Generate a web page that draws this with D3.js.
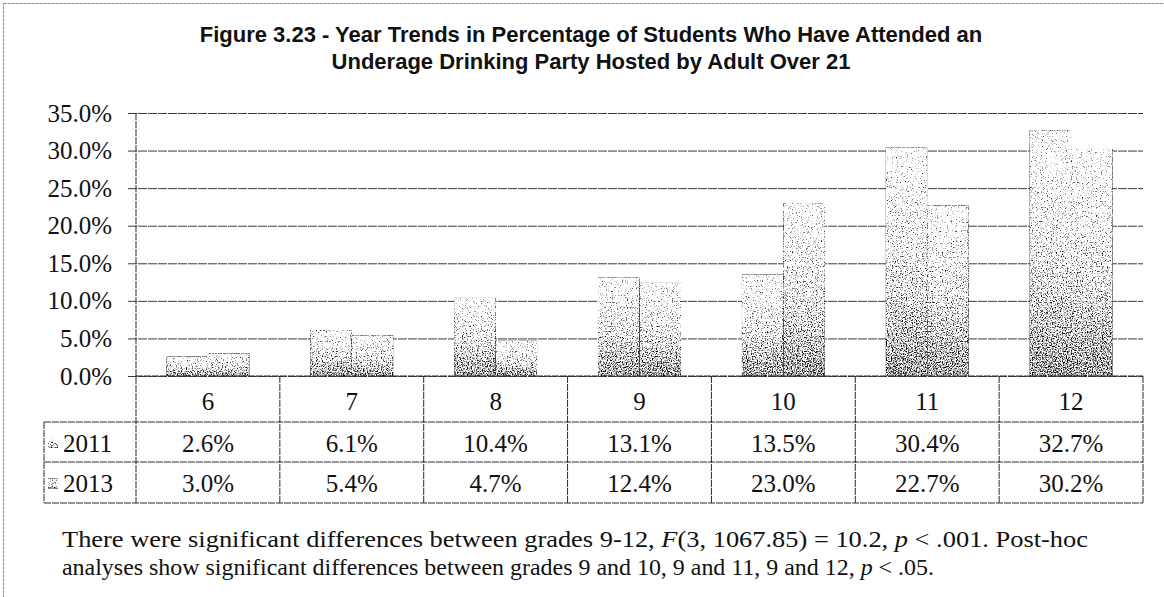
<!DOCTYPE html>
<html>
<head>
<meta charset="utf-8">
<script src="https://cdn.jsdelivr.net/npm/d3@7"></script>
<style>
  html, body { margin: 0; padding: 0; background: #fff; }
  svg { display: block; }
</style>
</head>
<body>
<div id="chart"></div>
<script>
// data
var grades = ["6", "7", "8", "9", "10", "11", "12"];
var years = ["2011", "2013"];
var values2011 = [2.6, 6.1, 10.4, 13.1, 13.5, 30.4, 32.7];
var values2013 = [3.0, 5.4, 4.7, 12.4, 23.0, 22.7, 30.2];
var yTicks = [0, 5, 10, 15, 20, 25, 30, 35];
var titleLines = [
    "Figure 3.23 - Year Trends in Percentage of Students Who Have Attended an",
    "Underage Drinking Party Hosted by Adult Over 21"
];

var W = 1164, H = 597;
var plotLeft = 136, plotRight = 1143, plotTop = 113, plotBottom = 376;
var rowTops = [376, 422, 462, 503];
var legendLeft = 44;

var svg = d3.select("#chart").append("svg")
    .attr("width", W)
    .attr("height", H);

// stipple filter: dither a grey gradient with noise
var defs = svg.append("defs");
var grad = defs.append("linearGradient")
    .attr("id", "barGrad")
    .attr("x1", 0).attr("y1", 0).attr("x2", 0).attr("y2", 1);
grad.append("stop").attr("offset", "0%").attr("stop-color", "#bdbdbd");
grad.append("stop").attr("offset", "55%").attr("stop-color", "#a8a8a8");
grad.append("stop").attr("offset", "100%").attr("stop-color", "#858585");

var f = defs.append("filter")
    .attr("id", "stipple")
    .attr("x", 0).attr("y", 0).attr("width", 1).attr("height", 1)
    .attr("color-interpolation-filters", "sRGB");
f.append("feTurbulence")
    .attr("type", "fractalNoise")
    .attr("baseFrequency", 0.8)
    .attr("numOctaves", 2)
    .attr("seed", 4)
    .attr("result", "noise");
f.append("feColorMatrix")
    .attr("in", "noise")
    .attr("type", "matrix")
    .attr("values", "1 0 0 0 0  1 0 0 0 0  1 0 0 0 0  0 0 0 0 1")
    .attr("result", "grey");
f.append("feComposite")
    .attr("in", "SourceGraphic")
    .attr("in2", "grey")
    .attr("operator", "arithmetic")
    .attr("k1", 0).attr("k2", 1).attr("k3", 1).attr("k4", -0.5)
    .attr("result", "sum");
var ct = f.append("feComponentTransfer").attr("in", "sum").attr("result", "dith");
["feFuncR", "feFuncG", "feFuncB"].forEach(function(n) {
    ct.append(n).attr("type", "linear").attr("slope", 3.5).attr("intercept", -1.2);
});
f.append("feComposite")
    .attr("in", "dith")
    .attr("in2", "SourceAlpha")
    .attr("operator", "in");

// outer frame (only left and top edges fall inside the picture)
svg.append("rect")
    .attr("x", 3.5).attr("y", 3.5)
    .attr("width", W + 40).attr("height", H + 40)
    .attr("fill", "none")
    .attr("stroke", "#888")
    .attr("stroke-dasharray", "3 1");

// title
svg.append("g").selectAll("text")
    .data(titleLines)
    .enter().append("text")
    .attr("x", 591)
    .attr("y", function(d, i) { return 42 + i * 27; })
    .attr("text-anchor", "middle")
    .style("font-family", "'Liberation Sans', Arial, sans-serif")
    .style("font-weight", "bold")
    .style("font-size", "22px")
    .style("fill", "#111")
    .text(function(d) { return d; });

var x0 = d3.scaleBand()
    .domain(grades)
    .range([plotLeft, plotRight])
    .paddingInner(0)
    .paddingOuter(0);

var x1 = d3.scaleBand()
    .domain(years)
    .range([0, x0.bandwidth()])
    .paddingInner(0)
    .paddingOuter(0.735);

var y = d3.scaleLinear()
    .domain([0, 35])
    .range([plotBottom, plotTop]);

// gridlines + y axis
var yAxis = d3.axisLeft(y)
    .tickValues(yTicks)
    .tickSize(0)
    .tickFormat(function(d) { return d.toFixed(1) + "%"; });

var gy = svg.append("g")
    .attr("transform", "translate(" + plotRight + ",0)")
    .call(yAxis);
gy.select(".domain").remove();
gy.selectAll(".tick line")
    .attr("x1", -(plotRight - plotLeft) - 8)
    .attr("x2", 0)
    .attr("stroke", "#3a3a3a")
    .attr("stroke-width", 1)
    .attr("stroke-dasharray", "9 1");
gy.selectAll(".tick text")
    .attr("x", -(plotRight - plotLeft) - 24)
    .style("font-family", "'Liberation Serif', 'Times New Roman', serif")
    .style("font-size", "25px")
    .style("fill", "#111");

// bars
var series = [values2011, values2013];
var barData = [];
grades.forEach(function(g, i) {
    years.forEach(function(yr, j) {
        barData.push({ grade: g, year: yr, value: series[j][i] });
    });
});

svg.append("g").selectAll("rect")
    .data(barData)
    .enter().append("rect")
    .attr("x", function(d) { return x0(d.grade) + x1(d.year); })
    .attr("y", function(d) { return y(d.value); })
    .attr("width", x1.bandwidth())
    .attr("height", function(d) { return y(0) - y(d.value); })
    .attr("fill", "url(#barGrad)")
    .attr("filter", "url(#stipple)");

// data table under the plot
var lineStyle = function(sel) {
    sel.attr("stroke", "#2a2a2a")
        .attr("stroke-width", 1)
        .attr("stroke-dasharray", "7 1")
        .attr("fill", "none");
};
var table = svg.append("g");

// vertical axis line (runs down through the table)
table.append("line")
    .attr("x1", plotLeft).attr("x2", plotLeft)
    .attr("y1", plotTop).attr("y2", rowTops[3])
    .call(lineStyle);

// horizontal table lines
table.append("line")
    .attr("x1", plotLeft).attr("x2", plotRight)
    .attr("y1", rowTops[0]).attr("y2", rowTops[0])
    .call(lineStyle);
[1, 2, 3].forEach(function(k) {
    table.append("line")
        .attr("x1", legendLeft).attr("x2", plotRight)
        .attr("y1", rowTops[k]).attr("y2", rowTops[k])
        .call(lineStyle);
});
// vertical separators
grades.forEach(function(g) {
    table.append("line")
        .attr("x1", x0(g) + x0.bandwidth()).attr("x2", x0(g) + x0.bandwidth())
        .attr("y1", rowTops[0]).attr("y2", rowTops[3])
        .call(lineStyle);
});
table.append("line")
    .attr("x1", legendLeft).attr("x2", legendLeft)
    .attr("y1", rowTops[1]).attr("y2", rowTops[3])
    .call(lineStyle);

var cellFont = function(sel) {
    sel.style("font-family", "'Liberation Serif', 'Times New Roman', serif")
        .style("font-size", "25px")
        .style("fill", "#111")
        .attr("text-anchor", "middle")
        .attr("dominant-baseline", "central");
};

table.append("g").selectAll("text")
    .data(grades)
    .enter().append("text")
    .attr("x", function(d) { return x0(d) + x0.bandwidth() / 2; })
    .attr("y", (rowTops[0] + rowTops[1]) / 2 + 2)
    .text(function(d) { return d; })
    .call(cellFont);

series.forEach(function(vals, j) {
    var cy = (rowTops[j + 1] + rowTops[j + 2]) / 2 + 1;
    table.append("g").selectAll("text")
        .data(vals)
        .enter().append("text")
        .attr("x", function(d, i) { return x0(grades[i]) + x0.bandwidth() / 2; })
        .attr("y", cy)
        .text(function(d) { return d.toFixed(1) + "%"; })
        .call(cellFont);
    // legend key + label
    table.append("rect")
        .attr("x", legendLeft + 4).attr("y", cy - 5)
        .attr("width", 10).attr("height", 10)
        .attr("fill", "url(#barGrad)")
        .attr("filter", "url(#stipple)");
    table.append("text")
        .attr("x", legendLeft + 19)
        .attr("y", cy)
        .text(years[j])
        .call(cellFont)
        .attr("text-anchor", "start");
});

// footnote
var foot = svg.append("g")
    .style("font-family", "'Liberation Serif', 'Times New Roman', serif")
    .style("font-size", "23.5px")
    .style("fill", "#111");

var l1 = foot.append("text").attr("x", 62).attr("y", 547).attr("textLength", 1026).attr("lengthAdjust", "spacingAndGlyphs");
l1.append("tspan").text("There were significant differences between grades 9-12, ");
l1.append("tspan").style("font-style", "italic").text("F");
l1.append("tspan").text("(3, 1067.85) = 10.2, ");
l1.append("tspan").style("font-style", "italic").text("p");
l1.append("tspan").text(" < .001.  Post-hoc");

var l2 = foot.append("text").attr("x", 62).attr("y", 575).attr("textLength", 872).attr("lengthAdjust", "spacingAndGlyphs");
l2.append("tspan").text("analyses show significant differences between grades 9 and 10, 9 and 11, 9 and 12, ");
l2.append("tspan").style("font-style", "italic").text("p");
l2.append("tspan").text(" < .05.");
</script>
</body>
</html>
